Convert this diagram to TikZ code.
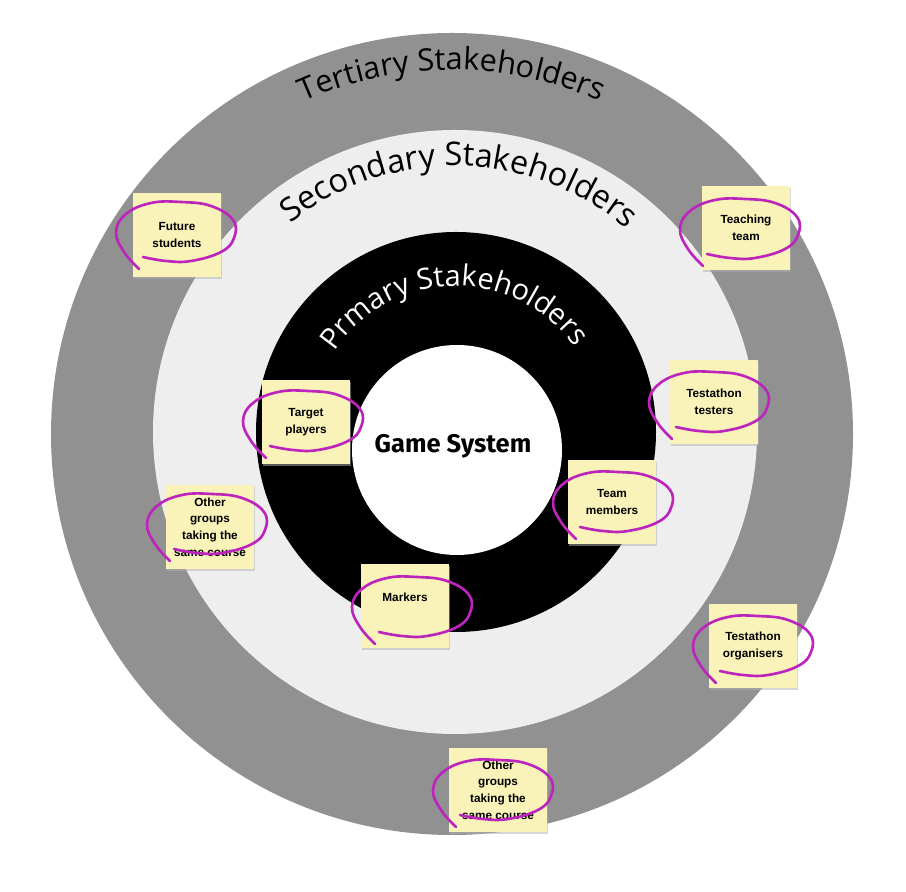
\documentclass[tikz,border=0pt]{standalone}
\usepackage{fontspec}
\setmainfont{Liberation Sans}
\newfontfamily\ringfont{Open Sans}
\newfontfamily\corefont{Fira Sans}
\usetikzlibrary{decorations.text,shadows}

\definecolor{tertgray}{RGB}{145,145,145}
\definecolor{secgray}{RGB}{238,238,238}
\definecolor{noteyellow}{RGB}{249,243,185}
\definecolor{pen}{RGB}{188,36,188}

\tikzset{
  note/.style={fill=noteyellow, minimum width=1.76cm, minimum height=1.68cm, inner sep=0pt, align=center,
    font=\bfseries\fontsize{6.7}{9.5}\selectfont,
    drop shadow={shadow xshift=0.6pt, shadow yshift=-1.2pt, fill=black!30, opacity=0.5}},
  scrib/.style={draw=pen, line width=1.5pt, line cap=round, line join=round},
  ringtext/.style={decorate, decoration={text along path, text align=center, text={#1}}}
}

% hand drawn loop round a note, shifted by (#2,#3)
\newcommand{\scribble}[3]{%
  \draw[scrib, shift={(#1)}, shift={(#2,#3)}] plot[smooth, tension=0.7] coordinates
    {(-37,-37) (-52,-20) (-60,0) (-50,18) (-25,29) (5,30) (35,26) (57,12) (58,-6) (45,-20) (15,-29) (-10,-29) (-33,-25)};}

\begin{document}
\begin{tikzpicture}[x=0.02cm, y=0.02cm]
\useasboundingbox (0,0) rectangle (906,892);

% rings
\fill[tertgray] (452,458) circle[radius=401];
\fill[secgray] (455,460) circle[radius=302];
\fill[black] (456,460) circle[radius=200];
\fill[white] (457,442) circle[radius=105];

\path[ringtext={|\ringfont\fontsize{17.5}{18}\selectfont|Tertiary Stakeholders}] (452,458) ++(160:364) arc[start angle=160, end angle=20, radius=364];
\path[ringtext={|\ringfont\fontsize{18.5}{20}\selectfont|Secondary Stakeholders}] (455,460) ++(169:266) arc[start angle=169, end angle=9, radius=266];
\path[ringtext={|\ringfont\fontsize{16.5}{18}\selectfont\color{white}|Prmary Stakeholders}] (456,460) ++(179:146) arc[start angle=179, end angle=3, radius=146];

\node[font=\corefont\bfseries\fontsize{14.5}{18}\selectfont] (core) at (453,446) {Game System};

% sticky notes
\node[note] (future) at (177,657) {Future\\students};
\node[note] (teaching) at (746,664) {Teaching\\team};
\node[note] (target) at (306,470) {Target\\players};
\node[note] (testers) at (714,490) {Testathon\\testers};
\node[note] (othersA) at (210,365) {Other\\groups\\taking the\\same course};
\node[note] (team) at (612,390) {Team\\members};
\node[note] (markers) at (405,286) {Markers\\\mbox{}};
\node[note] (organisers) at (753,246) {Testathon\\organisers};
\node[note, minimum width=1.96cm] (othersB) at (498,102) {Other\\groups\\taking the\\same course};

\scribble{future}{-1}{3}
\scribble{teaching}{-6}{-1}
\scribble{target}{-3}{1}
\scribble{testers}{-5}{0}
\scribble{othersA}{-3}{3}
\scribble{team}{1}{0}
\scribble{markers}{7}{-1}
\scribble{organisers}{0}{0}
\scribble{othersB}{-5}{0}

\end{tikzpicture}
\end{document}
